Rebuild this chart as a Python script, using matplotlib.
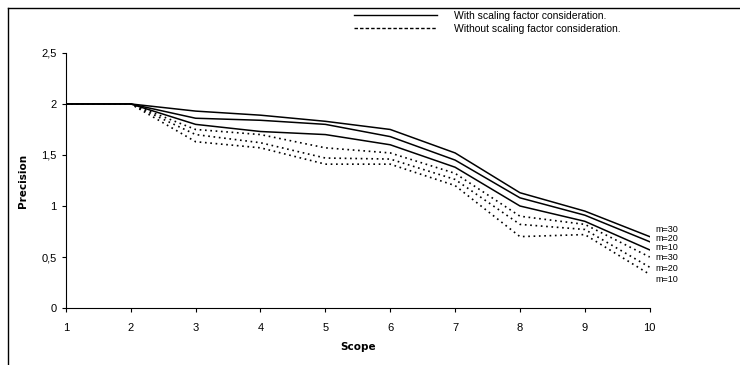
import numpy as np
import matplotlib.pyplot as plt
from matplotlib.lines import Line2D

plt.rcParams['font.family'] = ['Liberation Sans', 'DejaVu Sans']

scope = [1, 2, 3, 4, 5, 6, 7, 8, 9, 10]

with_m30 = [2, 2, 1.93, 1.89, 1.83, 1.75, 1.52, 1.13, 0.95, 0.70]
with_m20 = [2, 2, 1.86, 1.84, 1.80, 1.68, 1.45, 1.08, 0.91, 0.65]
with_m10 = [2, 2, 1.80, 1.73, 1.70, 1.60, 1.38, 1.00, 0.85, 0.57]

without_m30 = [2, 2, 1.75, 1.70, 1.57, 1.52, 1.32, 0.90, 0.82, 0.50]
without_m20 = [2, 2, 1.70, 1.62, 1.47, 1.46, 1.26, 0.82, 0.77, 0.40]
without_m10 = [2, 2, 1.63, 1.57, 1.41, 1.41, 1.20, 0.70, 0.72, 0.33]

end_labels = ["m=30", "m=20", "m=10", "m=30", "m=20", "m=10"]
end_label_y = [0.77, 0.68, 0.59, 0.50, 0.385, 0.28]

y_ticks = [0, 0.5, 1, 1.5, 2, 2.5]
y_tick_labels = ["0", "0,5", "1", "1,5", "2", "2,5"]

fig = plt.figure(figsize=(7.4, 3.65), dpi=100)
ax = fig.add_axes([0.089, 0.156, 0.789, 0.699])

for y in [with_m30, with_m20, with_m10]:
    ax.plot(scope, y, color="black", linewidth=1.1, linestyle="solid")

for y in [without_m30, without_m20, without_m10]:
    ax.plot(scope, y, color="black", linewidth=1.2, linestyle=(0, (1, 2.2)))

for label, y in zip(end_labels, end_label_y):
    ax.text(10.08, y, label, fontsize=6.5, va="center", ha="left")

ax.set_xlim(1, 10)
ax.set_ylim(0, 2.5)
ax.set_xticks(scope)
ax.set_yticks(y_ticks)
ax.set_yticklabels(y_tick_labels)
ax.tick_params(labelsize=8, length=3, direction="out", width=0.8)
ax.tick_params(axis="x", pad=8)
ax.spines["top"].set_visible(False)
ax.spines["right"].set_visible(False)

ax.set_xlabel("Scope", fontsize=7.5, fontweight="bold", family="DejaVu Sans", labelpad=6)
ax.set_ylabel("Precision", fontsize=7.5, fontweight="bold", family="DejaVu Sans", labelpad=10)

handles = [
    Line2D([], [], color="black", linewidth=1.0, linestyle="solid"),
    Line2D([], [], color="black", linewidth=1.0, linestyle=(0, (2.5, 1.5))),
]
fig.legend(
    handles,
    ["With scaling factor consideration.", "Without scaling factor consideration."],
    loc="upper left",
    bbox_to_anchor=(0.478, 0.97),
    frameon=False,
    fontsize=7.5,
    borderpad=0,
    borderaxespad=0,
    handlelength=8.0,
    handletextpad=1.6,
    labelspacing=0.3,
)

# outer frame of the scanned figure
fig.add_artist(Line2D([0.011, 0.011], [0.0, 0.978], color="black", linewidth=1.0))
fig.add_artist(Line2D([0.011, 1.0], [0.978, 0.978], color="black", linewidth=1.0))

fig.savefig("out.png", dpi=100)
